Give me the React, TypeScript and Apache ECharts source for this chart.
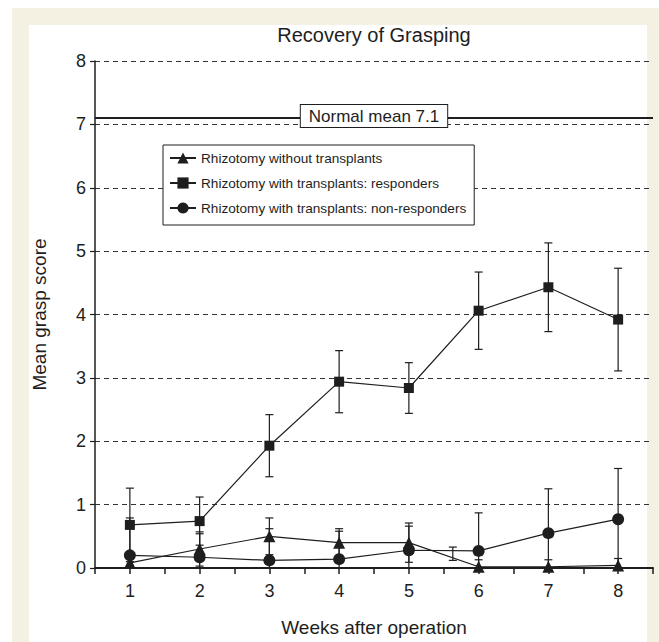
import React, { useEffect, useRef } from 'react';
import * as echarts from 'echarts';

const weeks = [1, 2, 3, 4, 5, 6, 7, 8];
const seriesNames = [
  'Rhizotomy without transplants',
  'Rhizotomy with transplants: responders',
  'Rhizotomy with transplants: non-responders',
];
const withoutTransplants = [0.08, 0.3, 0.5, 0.4, 0.4, 0.02, 0.02, 0.04];
const withoutTransplantsErr = [0.1, 0.27, 0.29, 0.22, 0.31, 0.11, 0.11, 0.11];
const responders = [0.68, 0.74, 1.93, 2.94, 2.84, 4.06, 4.43, 3.92];
const respondersErr = [0.58, 0.38, 0.49, 0.49, 0.4, 0.61, 0.7, 0.81];
const nonResponders = [0.2, 0.17, 0.12, 0.14, 0.28, 0.27, 0.55, 0.77];
const nonRespondersErr = [0.59, 0.37, 0.5, 0.44, 0.38, 0.6, 0.7, 0.8];
// a stray error bar printed between weeks 5 and 6 in the original figure
const strayBar = [[5.63, 0.12, 0.33]];
const normalMean = 7.1;
const yTicks = [0, 1, 2, 3, 4, 5, 6, 7, 8];

const INK = '#1e1e1e';
const FONT = '"Liberation Sans", Arial, Helvetica, sans-serif';

function errData(vals: number[], errs: number[]) {
  return weeks.map((w, i) => [w, Math.max(0, vals[i] - errs[i]), vals[i] + errs[i]]);
}

function errorSeries(data: number[][]) {
  return {
    type: 'custom',
    z: 1,
    silent: true,
    data,
    encode: { x: 0, y: [1, 2] },
    renderItem: (params: any, api: any) => {
      const x = api.value(0);
      const lo = api.value(1);
      const hi = api.value(2);
      const t = api.coord([x, hi]);
      const b = api.coord([x, lo]);
      const cw = 4;
      const style = { stroke: INK, lineWidth: 1.2 };
      const children: any[] = [
        { type: 'line', shape: { x1: t[0], y1: t[1], x2: b[0], y2: b[1] }, style },
        { type: 'line', shape: { x1: t[0] - cw, y1: t[1], x2: t[0] + cw, y2: t[1] }, style },
      ];
      if (lo > 0) {
        children.push({ type: 'line', shape: { x1: b[0] - cw, y1: b[1], x2: b[0] + cw, y2: b[1] }, style });
      }
      return { type: 'group', children };
    },
  };
}

function lineSeries(name: string, vals: number[], symbol: string, size: number, extra: any = {}) {
  return {
    type: 'line',
    name,
    z: 3,
    data: weeks.map((w, i) => [w, vals[i]]),
    symbol,
    symbolSize: size,
    showAllSymbol: true,
    lineStyle: { color: INK, width: 1.2 },
    itemStyle: { color: INK, borderWidth: 0 },
    emphasis: { disabled: true },
    ...extra,
  };
}

export default function App() {
  const ref = useRef<HTMLDivElement>(null);
  useEffect(() => {
    document.body.style.margin = '0';
    const chart = echarts.init(ref.current!, undefined, { renderer: 'svg' });
    chart.setOption({
      animation: false,
      textStyle: { fontFamily: FONT, color: INK },
      title: {
        text: 'Recovery of Grasping',
        left: 369,
        textAlign: 'center',
        top: 20,
        textStyle: { fontFamily: FONT, fontSize: 20, fontWeight: 'normal', color: INK },
      },
      grid: { left: 95, right: 6, top: 61, bottom: 74 },
      legend: {
        data: seriesNames,
        orient: 'vertical',
        left: 163,
        top: 145,
        backgroundColor: '#fff',
        borderColor: INK,
        borderWidth: 1,
        borderRadius: 0,
        padding: [6, 8, 10, 6],
        itemGap: 11,
        itemWidth: 26,
        itemHeight: 14,
        textStyle: { fontFamily: FONT, fontSize: 13.6, color: INK },
        selectedMode: false,
      },
      xAxis: {
        type: 'value',
        min: 0.5,
        max: 8.5,
        interval: 0.5,
        name: 'Weeks after operation',
        nameLocation: 'middle',
        nameGap: 50,
        nameTextStyle: { fontFamily: FONT, fontSize: 19, color: INK },
        axisLine: { show: true, onZero: false, lineStyle: { color: INK, width: 2 } },
        axisTick: { show: true, length: 6, lineStyle: { color: INK, width: 1.5 } },
        axisLabel: {
          fontFamily: FONT,
          fontSize: 18,
          color: INK,
          margin: 14,
          formatter: (v: number) => (Number.isInteger(v) && weeks.includes(v) ? String(v) : ''),
        },
        splitLine: { show: false },
      },
      yAxis: {
        type: 'value',
        min: yTicks[0],
        max: yTicks[yTicks.length - 1],
        interval: 1,
        name: 'Mean grasp score',
        nameLocation: 'middle',
        nameGap: 46,
        nameTextStyle: { fontFamily: FONT, fontSize: 19, color: INK },
        axisLine: { show: true, lineStyle: { color: INK, width: 1.5 } },
        axisTick: { show: true, length: 5, lineStyle: { color: INK, width: 1.2 } },
        axisLabel: { fontFamily: FONT, fontSize: 18, color: INK, margin: 9 },
        splitLine: { show: true, lineStyle: { color: '#333', width: 1, type: [5, 4] } },
      },
      series: [
        errorSeries(errData(withoutTransplants, withoutTransplantsErr)),
        errorSeries(errData(responders, respondersErr)),
        errorSeries(errData(nonResponders, nonRespondersErr)),
        errorSeries(strayBar),
        lineSeries(seriesNames[0], withoutTransplants, 'triangle', 12),
        lineSeries(seriesNames[1], responders, 'rect', 10, {
          markLine: {
            silent: true,
            symbol: 'none',
            data: [{ yAxis: normalMean }],
            lineStyle: { color: INK, width: 2, type: 'solid' },
            label: {
              show: true,
              position: 'middle',
              distance: -9,
              formatter: 'Normal mean ' + normalMean,
              fontFamily: FONT,
              fontSize: 17,
              color: INK,
              backgroundColor: '#fff',
              borderColor: INK,
              borderWidth: 1,
              padding: [3, 8, 2, 8],
            },
            emphasis: { disabled: true },
          },
        }),
        lineSeries(seriesNames[2], nonResponders, 'circle', 12),
      ],
    });
    return () => chart.dispose();
  }, []);
  return (
    <div style={{ position: 'relative', width: 659, height: 642, background: '#fff', overflow: 'hidden' }}>
      <div style={{ position: 'absolute', left: 12, top: 8, right: 0, bottom: 0, background: '#F4F0E2' }} />
      <div style={{ position: 'absolute', left: 29, top: 25, width: 618, bottom: 0, background: '#fff' }} />
      <div ref={ref} style={{ position: 'absolute', left: 0, top: 0, width: 659, height: 642 }} />
    </div>
  );
}
